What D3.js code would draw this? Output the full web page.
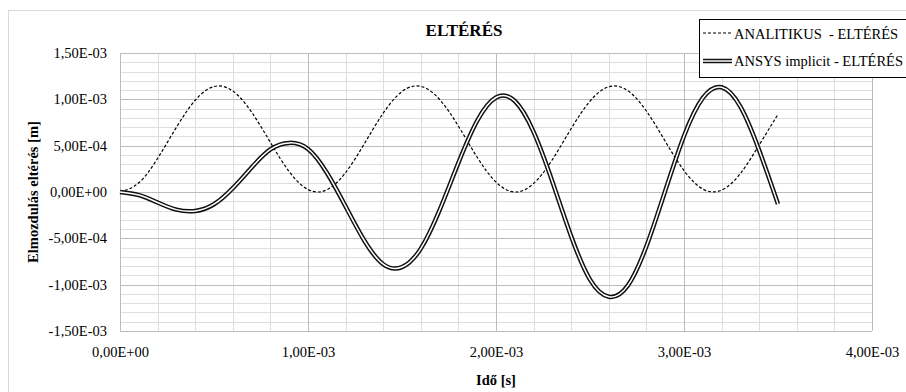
<!DOCTYPE html>
<html>
<head>
<meta charset="utf-8">
<script src="https://cdn.jsdelivr.net/npm/d3@7"></script>
</head>
<body style="margin:0">
<script>
// time [s]
const times = [0, 1e-4, 2e-4, 3e-4, 4e-4, 5e-4, 6e-4, 7e-4, 8e-4, 9e-4,
  1.0e-3, 1.1e-3, 1.2e-3, 1.3e-3, 1.4e-3, 1.5e-3, 1.6e-3, 1.7e-3, 1.8e-3, 1.9e-3,
  2.0e-3, 2.1e-3, 2.2e-3, 2.3e-3, 2.4e-3, 2.5e-3, 2.6e-3, 2.7e-3, 2.8e-3, 2.9e-3,
  3.0e-3, 3.1e-3, 3.2e-3, 3.3e-3, 3.4e-3, 3.5e-3];

// ANALITIKUS - ELTÉRÉS [m]
const analitikus = [0, 0.99e-4, 3.62e-4, 6.98e-4, 9.90e-4, 11.38e-4, 10.90e-4, 8.62e-4, 5.35e-4, 2.20e-4,
  0.27e-4, 0.23e-4, 2.10e-4, 5.22e-4, 8.51e-4, 10.84e-4, 11.40e-4, 9.99e-4, 7.11e-4, 3.75e-4,
  1.07e-4, 0.00e-4, 0.92e-4, 3.50e-4, 6.85e-4, 9.81e-4, 11.36e-4, 10.95e-4, 8.74e-4, 5.48e-4,
  2.31e-4, 0.32e-4, 0.20e-4, 2.00e-4, 5.08e-4, 8.39e-4];

// ANSYS implicit - ELTÉRÉS [m]
const ansys = [0, -0.33e-4, -1.13e-4, -1.90e-4, -2.05e-4, -1.32e-4, 0.42e-4, 2.65e-4, 4.60e-4, 5.30e-4,
  4.64e-4, 2.08e-4, -1.56e-4, -5.26e-4, -7.79e-4, -8.10e-4, -6.11e-4, -1.95e-4, 3.15e-4, 7.69e-4,
  10.20e-4, 9.82e-4, 6.48e-4, 1.11e-4, -4.79e-4, -9.45e-4, -11.30e-4, -10.13e-4, -5.86e-4, 0.12e-4,
  6.05e-4, 10.15e-4, 11.30e-4, 9.21e-4, 4.49e-4, -1.30e-4];

const xTicks = [0, 1e-3, 2e-3, 3e-3, 4e-3];
const xTickLabels = ["0,00E+00", "1,00E-03", "2,00E-03", "3,00E-03", "4,00E-03"];
const yTicks = [-1.5e-3, -1e-3, -5e-4, 0, 5e-4, 1e-3, 1.5e-3];
const yTickLabels = ["-1,50E-03", "-1,00E-03", "-5,00E-04", "0,00E+00", "5,00E-04", "1,00E-03", "1,50E-03"];

const seriesNames = ["ANALITIKUS  - ELTÉRÉS", "ANSYS implicit - ELTÉRÉS"];

const FONT = 'Liberation Serif';

const width = 906, height = 392;
const margin = {top: 53, left: 120, right: 34, bottom: 61};
const w = width - margin.left - margin.right;
const h = height - margin.top - margin.bottom;

const svg = d3.select('body').append('svg')
  .attr('width', width)
  .attr('height', height)
  .style('display', 'block');

// outer chart frame
svg.append('rect')
  .attr('x', 8.5).attr('y', 10.5)
  .attr('width', 920).attr('height', 400)
  .attr('fill', '#fff')
  .attr('stroke', '#d9d9d9');

const x = d3.scaleLinear().domain([0, 4e-3]).range([0, w]);
const y = d3.scaleLinear().domain([-1.5e-3, 1.5e-3]).range([h, 0]);

const chart = svg.append('g')
  .attr('transform', `translate(${margin.left},${margin.top})`);

// minor grid
const xMinor = d3.range(0, 4e-3 + 1e-9, 2e-4);
const yMinor = d3.range(-1.5e-3, 1.5e-3 + 1e-9, 1e-4);

chart.append('g').selectAll('line')
  .data(yMinor)
  .join('line')
  .attr('x1', 0).attr('x2', w)
  .attr('y1', d => Math.round(y(d)) + 0.5)
  .attr('y2', d => Math.round(y(d)) + 0.5)
  .attr('stroke', '#dedede');

chart.append('g').selectAll('line')
  .data(xMinor)
  .join('line')
  .attr('y1', 0).attr('y2', h)
  .attr('x1', d => Math.round(x(d)) + 0.5)
  .attr('x2', d => Math.round(x(d)) + 0.5)
  .attr('stroke', '#dedede');

// major grid
chart.append('g').selectAll('line')
  .data(yTicks)
  .join('line')
  .attr('x1', 0).attr('x2', w)
  .attr('y1', d => Math.round(y(d)) + 0.5)
  .attr('y2', d => Math.round(y(d)) + 0.5)
  .attr('stroke', '#bcbcbc');

chart.append('g').selectAll('line')
  .data(xTicks)
  .join('line')
  .attr('y1', 0).attr('y2', h)
  .attr('x1', d => Math.round(x(d)) + 0.5)
  .attr('x2', d => Math.round(x(d)) + 0.5)
  .attr('stroke', '#bcbcbc');

// axes (labels only)
const yAxis = d3.axisLeft(y)
  .tickValues(yTicks)
  .tickSize(0)
  .tickPadding(13)
  .tickFormat((d, i) => yTickLabels[i]);

const gy = chart.append('g').call(yAxis);
gy.select('.domain').remove();
gy.selectAll('text')
  .style('font-family', FONT)
  .style('font-size', '14.5px')
  .style('fill', '#000');

const xAxis = d3.axisBottom(x)
  .tickValues(xTicks)
  .tickSize(0)
  .tickPadding(16)
  .tickFormat((d, i) => xTickLabels[i]);

const gx = chart.append('g')
  .attr('transform', `translate(0,${h})`)
  .call(xAxis);
gx.select('.domain').remove();
gx.selectAll('text')
  .style('font-family', FONT)
  .style('font-size', '14.5px')
  .style('fill', '#000');

// lines
const rowsA = times.map((t, i) => ({t: t, v: analitikus[i]}));
const rowsB = times.map((t, i) => ({t: t, v: ansys[i]}));

const line = d3.line()
  .x(d => x(d.t))
  .y(d => y(d.v))
  .curve(d3.curveNatural);

chart.append('path')
  .datum(rowsA)
  .attr('d', line)
  .attr('fill', 'none')
  .attr('stroke', '#000')
  .attr('stroke-width', 1.2)
  .attr('stroke-dasharray', '3,2');

chart.append('path')
  .datum(rowsB)
  .attr('d', line)
  .attr('fill', 'none')
  .attr('stroke', '#111')
  .attr('stroke-width', 4.5);

chart.append('path')
  .datum(rowsB)
  .attr('d', line)
  .attr('fill', 'none')
  .attr('stroke', '#fff')
  .attr('stroke-width', 1.5);

// title
svg.append('text')
  .attr('x', 464).attr('y', 36)
  .attr('text-anchor', 'middle')
  .style('font-family', FONT)
  .style('font-size', '17px')
  .style('font-weight', 'bold')
  .text('ELTÉRÉS');

// axis titles
svg.append('text')
  .attr('x', margin.left + w / 2).attr('y', 385)
  .attr('text-anchor', 'middle')
  .style('font-family', FONT)
  .style('font-size', '14.5px')
  .style('font-weight', 'bold')
  .text('Idő [s]');

svg.append('text')
  .attr('transform', `translate(38,${margin.top + h / 2}) rotate(-90)`)
  .attr('text-anchor', 'middle')
  .style('font-family', FONT)
  .style('font-size', '14.5px')
  .style('font-weight', 'bold')
  .text('Elmozdulás eltérés [m]');

// legend
const legend = svg.append('g');
legend.append('rect')
  .attr('x', 699.5).attr('y', 19.5)
  .attr('width', 230).attr('height', 58)
  .attr('fill', '#fff')
  .attr('stroke', '#000');

legend.append('line')
  .attr('x1', 703).attr('x2', 732)
  .attr('y1', 33).attr('y2', 33)
  .attr('stroke', '#000')
  .attr('stroke-width', 1.2)
  .attr('stroke-dasharray', '3,2');

legend.append('line')
  .attr('x1', 703).attr('x2', 732)
  .attr('y1', 61).attr('y2', 61)
  .attr('stroke', '#111')
  .attr('stroke-width', 4.5);
legend.append('line')
  .attr('x1', 703).attr('x2', 732)
  .attr('y1', 61).attr('y2', 61)
  .attr('stroke', '#fff')
  .attr('stroke-width', 1.5);

legend.selectAll('text.lbl')
  .data(seriesNames)
  .join('text')
  .attr('class', 'lbl')
  .attr('x', 734)
  .attr('y', (d, i) => i === 0 ? 38.5 : 66)
  .style('font-family', FONT)
  .style('font-size', '14.5px')
  .style('white-space', 'pre')
  .text(d => d);
</script>
</body>
</html>
